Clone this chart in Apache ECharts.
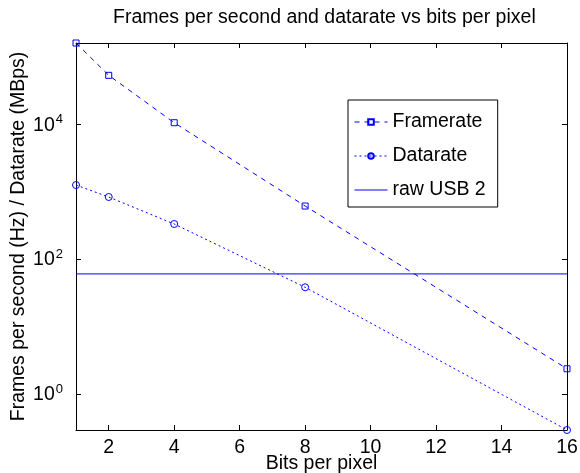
<!DOCTYPE html>
<html><head><meta charset="utf-8">
<script src="https://cdn.jsdelivr.net/npm/echarts@6/dist/echarts.min.js"></script>
<style>html,body{margin:0;padding:0;background:#fff}#c{width:580px;height:473px}</style>
</head><body><div id="c"></div>
<script>
const bitsPerPixel = [1, 2, 4, 8, 16];
const framerate = [160000, 53000, 10500, 610, 2.35];
const datarate = [1250, 830, 330, 38, 0.29];
const usbX = [1, 16];
const usbRate = [60, 60];
const xTicks = [2, 4, 6, 8, 10, 12, 14, 16];
const yTicks = [1, 100, 10000];

const FONT = 'Liberation Sans, Arial, Helvetica, sans-serif';
const FS = 19.5;
const blue = '#0000ff';
const yMin = 0.29, yMax = 160000;

function supLabel(v) {
  const r = Math.round(Math.log10(v));
  return '{b|10}{sup|' + r + '}';
}

const chart = echarts.init(document.getElementById('c'), null, {renderer: 'canvas'});
const axisLine = {show: true, onZero: false, lineStyle: {color: '#000', width: 1}};
chart.setOption({
  animation: false,
  backgroundColor: '#fff',
  title: {
    text: 'Frames per second and datarate vs bits per pixel',
    left: 108, top: 3,
    textStyle: {fontFamily: FONT, fontSize: FS, fontWeight: 'normal', color: '#000'}
  },
  grid: {left: 76, right: 13, top: 43, bottom: 43, containLabel: false, outerBoundsMode: 'none'},
  legend: {
    orient: 'vertical', left: 348, top: 100,
    backgroundColor: '#fff', borderColor: '#000', borderWidth: 1,
    padding: [12, 12, 7, 6], itemGap: 14, itemWidth: 33, itemHeight: 7,
    textStyle: {fontFamily: FONT, fontSize: FS, color: '#000'},
    lineStyle: {width: 1},
    data: ['Framerate', 'Datarate', 'raw USB 2']
  },
  xAxis: [
    {
      type: 'value', min: 1, max: 16, position: 'bottom',
      axisLine: axisLine,
      axisTick: {show: true, inside: true, length: 5, customValues: xTicks, lineStyle: {color: '#000'}},
      splitLine: {show: false},
      name: 'Bits per pixel', nameLocation: 'middle', nameGap: 24, nameMoveOverlap: false,
      nameTextStyle: {fontFamily: FONT, fontSize: FS, color: '#000'},
      axisLabel: {fontFamily: FONT, fontSize: FS, color: '#000', margin: 8, customValues: xTicks}
    },
    {
      type: 'value', min: 1, max: 16, position: 'top',
      axisLine: axisLine,
      axisTick: {show: true, inside: true, length: 5, customValues: xTicks, lineStyle: {color: '#000'}},
      splitLine: {show: false},
      axisLabel: {show: false}
    }
  ],
  yAxis: [
    {
      type: 'log', logBase: 10, min: yMin, max: yMax, position: 'left',
      axisLine: axisLine,
      axisTick: {show: true, inside: true, length: 5, customValues: yTicks, lineStyle: {color: '#000'}},
      splitLine: {show: false},
      name: 'Frames per second (Hz) / Datarate (MBps)', nameLocation: 'middle', nameGap: 47, nameMoveOverlap: false,
      nameTextStyle: {fontFamily: FONT, fontSize: FS, color: '#000'},
      axisLabel: {color: '#000', margin: 13, customValues: yTicks,
        formatter: supLabel,
        rich: {
          b: {fontFamily: FONT, fontSize: FS, color: '#000', lineHeight: 22, verticalAlign: 'bottom'},
          sup: {fontFamily: FONT, fontSize: 13, color: '#000', lineHeight: 22, verticalAlign: 'top', padding: [0, 0, 0, 1]}
        }
      }
    },
    {
      type: 'log', logBase: 10, min: yMin, max: yMax, position: 'right',
      axisLine: axisLine,
      axisTick: {show: true, inside: true, length: 5, customValues: yTicks, lineStyle: {color: '#000'}},
      splitLine: {show: false},
      axisLabel: {show: false}
    }
  ],
  series: [
    {
      name: 'Framerate', type: 'line',
      data: bitsPerPixel.map((x, i) => [x, framerate[i]]),
      symbol: 'rect', symbolSize: 6, showAllSymbol: true,
      itemStyle: {color: 'rgba(255,255,255,0)', borderColor: blue, borderWidth: 1},
      lineStyle: {color: blue, width: 1, type: [5, 5]}
    },
    {
      name: 'Datarate', type: 'line',
      data: bitsPerPixel.map((x, i) => [x, datarate[i]]),
      symbol: 'circle', symbolSize: 7, showAllSymbol: true,
      itemStyle: {color: 'rgba(255,255,255,0)', borderColor: blue, borderWidth: 1},
      lineStyle: {color: blue, width: 1, type: [2, 3]}
    },
    {
      name: 'raw USB 2', type: 'line',
      data: usbX.map((x, i) => [x, usbRate[i]]),
      symbol: 'none',
      lineStyle: {color: blue, width: 1, type: 'solid'},
      itemStyle: {color: 'rgba(0,0,255,0)', borderWidth: 0}
    }
  ]
});
</script></body></html>
